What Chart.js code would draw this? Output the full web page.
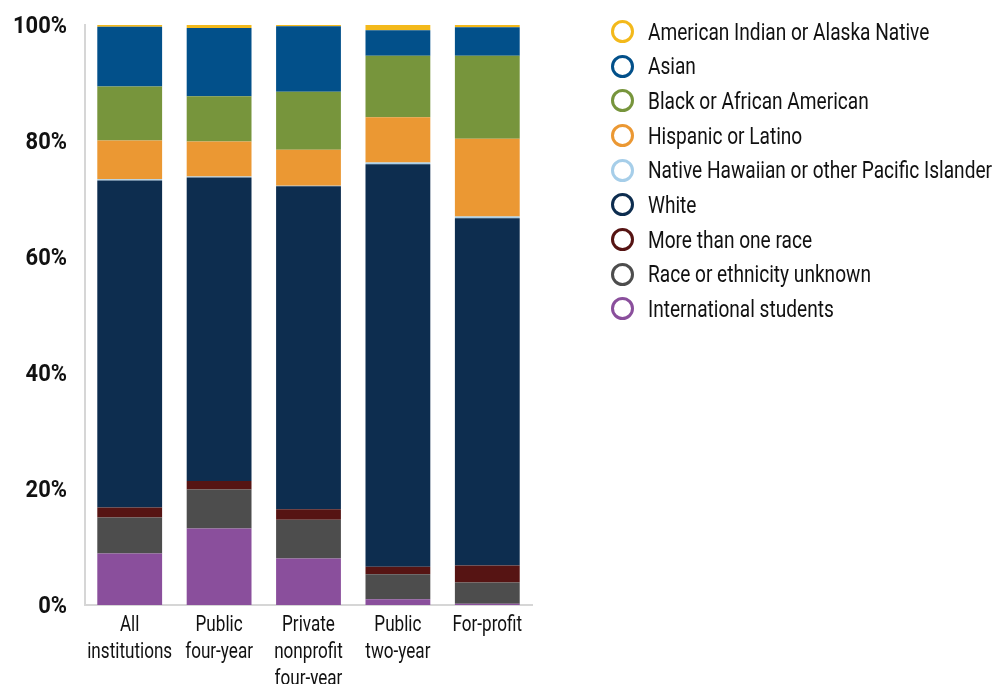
<!DOCTYPE html>
<html>
<head>
<meta charset="utf-8">
<script src="https://cdn.jsdelivr.net/npm/chart.js@4"></script>
<style>
  html, body { margin: 0; padding: 0; background: #fff; }
  #wrap { position: relative; width: 995px; height: 684px; }
  #legend { position: absolute; left: 611px; top: 15px; margin: 0; padding: 0; list-style: none;
    font-family: Roboto, sans-serif; font-size: 24px; color: #111; }
  #legend li { height: 34.65px; line-height: 34px; white-space: nowrap; }
  #legend .dot { display: inline-block; width: 17px; height: 17px; border-radius: 50%; border: 3.5px solid;
    box-sizing: content-box; vertical-align: middle; margin-right: 14px; position: relative; top: -2px; }
  #legend .txt { display: inline-block; transform-origin: 0 50%; vertical-align: middle; position: relative; top: -2px; }
</style>
</head>
<body>
<div id="wrap">
  <canvas id="chart" width="995" height="684"></canvas>
  <ul id="legend"></ul>
</div>
<script>
// Categories (x axis), stacked bottom-up
const categories = [['All', 'institutions'], ['Public', 'four-year'], ['Private', 'nonprofit', 'four-year'], ['Public', 'two-year'], ['For-profit']];

// Series values, % of students
const international = [8.9, 13.2, 8.0, 1.0, 0.2];
const unknown       = [6.2, 6.7, 6.7, 4.3, 3.7];
const multiRace     = [1.7, 1.5, 1.8, 1.3, 2.9];
const white         = [56.4, 52.3, 55.7, 69.4, 59.9];
const pacific       = [0.2, 0.2, 0.1, 0.3, 0.3];
const hispanic      = [6.7, 6.0, 6.2, 7.8, 13.4];
const black         = [9.3, 7.8, 10.0, 10.6, 14.3];
const asian         = [10.3, 11.8, 11.3, 4.4, 4.9];
const amIndian      = [0.3, 0.5, 0.2, 0.9, 0.4];

const yTicks = [0, 20, 40, 60, 80, 100];

const series = [
  { label: 'International students', data: international, color: '#8a4f9c' },
  { label: 'Race or ethnicity unknown', data: unknown, color: '#4d4d4d' },
  { label: 'More than one race', data: multiRace, color: '#561413' },
  { label: 'White', data: white, color: '#0d2d4f' },
  { label: 'Native Hawaiian or other Pacific Islander', data: pacific, color: '#a6cee9' },
  { label: 'Hispanic or Latino', data: hispanic, color: '#eb9833' },
  { label: 'Black or African American', data: black, color: '#77953c' },
  { label: 'Asian', data: asian, color: '#02508a' },
  { label: 'American Indian or Alaska Native', data: amIndian, color: '#f3b91b' }
];

const canvas = document.getElementById('chart');
const ctx = canvas.getContext('2d');

// no condensed font installed: squeeze the text horizontally instead
ctx.font = '22px Roboto';
const xSqueeze = 85 / ctx.measureText('institutions').width;
ctx.font = 'bold 24px Roboto';
const ySqueeze = 54 / ctx.measureText('100%').width;
const baseFill = CanvasRenderingContext2D.prototype.fillText;
ctx.fillText = function (t, x, y, mw) {
  const k = this.font.indexOf('bold') >= 0 ? ySqueeze : xSqueeze;
  this.save();
  this.translate(x, y);
  this.scale(k, 1);
  baseFill.call(this, t, 0, 0, mw);
  this.restore();
};

new Chart(ctx, {
  type: 'bar',
  data: {
    labels: categories,
    datasets: series.map(s => ({
      label: s.label,
      data: s.data,
      backgroundColor: s.color,
      borderWidth: 0,
      barPercentage: 0.725,
      categoryPercentage: 1
    }))
  },
  options: {
    responsive: false,
    animation: false,
    layout: { padding: { top: 25, right: 463, left: 0, bottom: 0 } },
    plugins: { legend: { display: false }, tooltip: { enabled: false } },
    scales: {
      x: {
        stacked: true,
        grid: { display: false, drawTicks: false },
        border: { color: '#d6d6d6', width: 2 },
        ticks: { color: '#111', font: { family: 'Roboto', size: 22, lineHeight: '27px' }, padding: 7, maxRotation: 0, autoSkip: false },
        afterFit: s => { s.height = 79; s.paddingLeft = 0; s.paddingRight = 0; }
      },
      y: {
        stacked: true,
        min: 0, max: 100,
        grid: { display: false, drawTicks: false },
        border: { color: '#d6d6d6', width: 2 },
        afterBuildTicks: s => { s.ticks = yTicks.map(v => ({ value: v })); },
        ticks: { color: '#111', font: { family: 'Roboto', size: 24, weight: 'bold' }, padding: 18, labelOffset: 2, callback: v => v + '%' },
        afterFit: s => { s.width = 85; s.paddingTop = 0; s.paddingBottom = 0; }
      }
    }
  }
});

// Legend, top-down = reverse of stacking order
const legend = document.getElementById('legend');
series.slice().reverse().forEach(s => {
  const li = document.createElement('li');
  li.innerHTML = `<span class="dot" style="border-color:${s.color}"></span><span class="txt">${s.label}</span>`;
  legend.appendChild(li);
});
const longest = legend.querySelectorAll('.txt')[4];
const lk = 344 / longest.getBoundingClientRect().width;
legend.querySelectorAll('.txt').forEach(el => { el.style.transform = `scaleX(${lk})`; });
</script>
</body>
</html>
